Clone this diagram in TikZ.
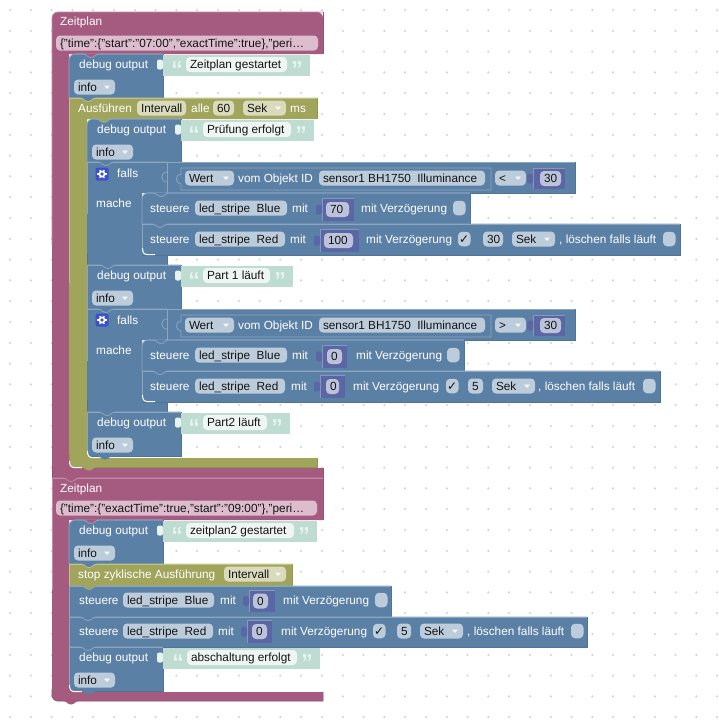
\documentclass[tikz,border=0pt]{standalone}
\usepackage{fontspec}
\setmainfont{Liberation Sans}
\newfontfamily\chkfont{DejaVu Sans}
\definecolor{pur}{HTML}{A55B80}\definecolor{purL}{HTML}{C08CA6}\definecolor{purD}{HTML}{935173}\definecolor{purF}{HTML}{DDBDCD}
\definecolor{blu}{HTML}{5B80A5}\definecolor{bluL}{HTML}{8CA6C0}\definecolor{bluD}{HTML}{517394}\definecolor{bluF}{HTML}{BDCCDB}
\definecolor{oli}{HTML}{A0A55B}\definecolor{oliL}{HTML}{C0C48C}\definecolor{oliD}{HTML}{919550}\definecolor{oliF}{HTML}{DADBBD}
\definecolor{grn}{HTML}{BEDCD1}\definecolor{grnL}{HTML}{E6F3EE}\definecolor{grnF}{HTML}{EEF5F2}
\definecolor{valc}{HTML}{5B67A5}\definecolor{valL}{HTML}{8C95C0}\definecolor{valF}{HTML}{BDC2DB}
\definecolor{dotc}{HTML}{D4D4D4}\definecolor{gearc}{HTML}{3A50CC}\definecolor{inkc}{HTML}{141414}
\newcount\nodec
\tikzset{
  lblnode/.style={anchor=west,inner sep=0pt,text=white,text height=10pt,text depth=2pt,font=\fontsize{11.8}{14}\selectfont},
  fldnode/.style={inner sep=0pt,rounded corners=4pt,minimum height=15pt,text=inkc,text height=10pt,text depth=2pt,font=\fontsize{11.8}{14}\selectfont},
  quotenode/.style={anchor=base,inner sep=0pt,text=grnL,font=\bfseries\fontsize{23}{23}\selectfont},
  hl/.style={line width=0.8pt}
}
% label
\newcommand\txt[3]{\global\advance\nodec by 1 \node[lblnode] (n\the\nodec) at ({#1},{#2}) {#3};}
% field: color,x1,x2,yc,text
\newcommand\fld[5]{\global\advance\nodec by 1
  \pgfmathsetmacro\fldw{(#3)-(#2)}
  \node[fldnode,fill=#1,minimum width=\fldw pt] (n\the\nodec) at ({((#2)+(#3))/2},{#4}) {\makebox[\fldw pt][l]{\hspace{4pt}#5\hss}};}
% dropdown field
\newcommand\ddf[5]{\fld{#1}{#2}{#3}{#4}{#5}%
  \fill[white!85!#1] ({#3-11},{#4-1.5}) -- ({#3-5},{#4-1.5}) -- ({#3-8},{#4+2}) -- cycle;}
% plain block
\newcommand\blk[5]{\fill[#1] ({#2},{#3}) rectangle ({#4},{#5});
  \draw[#1L,hl] ({#2},{#5}) -- ({#2},{#3}) -- ({#4},{#3});
  \draw[#1D,hl] ({#4},{#3}) -- ({#4},{#5}) -- ({#2},{#5});}
% block with rounded top-left
\newcommand\blkR[5]{\fill[#1] ({#2},{#5}) [rounded corners=6pt] -- ({#2},{#3}) [sharp corners] -- ({#4},{#3}) -- ({#4},{#5}) -- cycle;
  \draw[#1L,hl] ({#2},{#5}) [rounded corners=6pt] -- ({#2},{#3}) [sharp corners] -- ({#4},{#3});
  \draw[#1D,hl] ({#4},{#3}) -- ({#4},{#5}) -- ({#2},{#5});}
% C block: col,x,y1,xr,hb,xi,ib,y2, radii in \rtop \rbot
\def\rtop{0}\def\rbot{0}
\newcommand\cblk[8]{\fill[#1] (#2,{(#3+#8)/2}) [rounded corners=\rtop pt] -- (#2,#3) -- (#4,#3) [sharp corners] -- (#4,#5) -- (#6,#5) -- (#6,#7) -- (#4,#7) -- (#4,#8) [rounded corners=\rbot pt] -- (#2,#8) -- (#2,{#8-12}) [sharp corners] -- cycle;
  \draw[#1L,hl] (#2,{(#3+#8)/2}) [rounded corners=\rtop pt] -- (#2,#3) -- (#4,#3);
  \draw[#1D,hl] (#4,#3) -- (#4,#5);
  \draw[#1D,hl] (#4,#7) -- (#4,#8) [rounded corners=\rbot pt] -- (#2,#8) -- (#2,{#8-12});}
% inner corner highlight: parent,xi,ib
\newcommand\corner[3]{\fill[#1] (#2,{#3-7}) .. controls ({#2+.5},{#3-2}) and ({#2+2},#3) .. ({#2+7},#3) -- (#2,#3) -- cycle;
  \draw[white,line width=1pt] ({#2+.5},{#3-7}) .. controls ({#2+.5},{#3-2}) and ({#2+2},{#3-.3}) .. ({#2+7},{#3-.3}) -- ({#2+13},{#3-.3});}
% bump: nx,y,fill
\newcommand\bump[3]{\fill[#3] (#1,#2) .. controls ({#1+4},#2) and ({#1+4},{#2+3.5}) .. ({#1+8},{#2+3.5}) .. controls ({#1+12},{#2+3.5}) and ({#1+12},#2) .. ({#1+16},#2) -- cycle;}
% notch line: x1,nx,x2,y,fill,light
\newcommand\notch[6]{\bump{#2}{#4}{#5}
  \draw[#6,hl] (#1,#4) -- (#2,#4) .. controls ({#2+4},#4) and ({#2+4},{#4+3.5}) .. ({#2+8},{#4+3.5}) .. controls ({#2+12},{#4+3.5}) and ({#2+12},#4) .. ({#2+16},#4) -- (#3,#4);}
% tab: right x, yc, colour
\newcommand\tabb[3]{\fill[#3,rounded corners=2pt] ({#1-6},{#2-5}) rectangle ({#1},{#2+5});}
% debug: x,y,green right,f1,f2,text,rounded(blk/blkR)
\newcommand\dbg[7]{\csname #7\endcsname{blu}{#1}{#2}{#1+94}{#2+44}
  \fill[grn] ({#1+94},{#2+1}) rectangle (#3,{#2+22});
  \tabb{#1+94}{#2+10.5}{grnL}
  \txt{#1+10}{#2+10.5}{debug output}
  \global\advance\nodec by 1 \node[quotenode] (n\the\nodec) at ({#4-9},{#2+23}) {“};
  \global\advance\nodec by 1 \node[quotenode] (n\the\nodec) at ({#5+10},{#2+23}) {”};
  \fld{grnF}{#4}{#5}{#2+10.5}{#6}
  \ddf{bluF}{#1+5}{#1+46}{#2+33}{info}}
% value block: x1,x2,y1,y2,f1,f2,text
\newcommand\valb[7]{\fill[valc] ({#1},{#3}) rectangle ({#2},{#4});
  \draw[valL,hl] ({#1},{#4}) -- ({#1},{#3}) -- ({#2},{#3});
  \tabb{#1}{((#3)+(#4))/2}{valc}
  \fld{valF}{#5}{#6}{((#3)+(#4))/2}{#7}}
% checkbox: x1,yc,text
\newcommand\cbx[3]{\global\advance\nodec by 1
  \node[fldnode,fill=bluF,minimum width=12.5pt,minimum height=14.5pt] (n\the\nodec) at ({#1+6.25},{#2}) {\makebox[12.5pt][c]{\chkfont\fontsize{12}{12}\selectfont #3}};}
% compare row: y
\newcommand\cmpr[1]{\blk{blu}{167}{#1}{575}{#1+31}
  \draw[bluL,hl] (167,{#1+10}) .. controls (160,{#1+10}) and (160,{#1+20}) .. (167,{#1+20});
  \draw[bluL,hl] (181,{#1+6}) -- (491,{#1+6}) -- (491,{#1+28}) -- (181,{#1+28}) -- (181,{#1+22}) .. controls (175,{#1+22}) and (175,{#1+12}) .. (181,{#1+12}) -- cycle;
  \ddf{bluF}{185}{234}{#1+16}{W\kern-0.5pt ert}
  \txt{238}{#1+16}{vom Objekt ID}
  \fld{bluF}{319}{485}{#1+16}{sensor1 BH1750\ \ Illuminance}
  \valb{533}{565}{#1+6}{#1+27}{540}{561}{30}}
% gear: cx,cy
\newcommand\geartile[2]{\fill[gearc,rounded corners=2pt] ({#1-6.5},{#2-6.5}) rectangle ({#1+6.5},{#2+6.5});
  \draw[white,line width=1.7pt] (#1,#2) circle[radius=2.6pt];
  \foreach \a in {0,60,...,300}{\draw[white,line width=1.2pt] ({#1+3*cos(\a)},{#2+3*sin(\a)}) -- ({#1+4.6*cos(\a)},{#2+4.6*sin(\a)});}}
\begin{document}
\begin{tikzpicture}[x=1pt,y=-1pt]
\useasboundingbox (0,0) rectangle (719,728);
\fill[white] (0,0) rectangle (719,728);
% background grid
\fill[dotc] \foreach \i in {0,...,34}{\foreach \j in {0,...,34}{
  ({10+20.8*\i-1},{10+20.8*\j-.5}) rectangle ({10+20.8*\i+1},{10+20.8*\j+.5})
  ({10+20.8*\i-.5},{10+20.8*\j-1}) rectangle ({10+20.8*\i+.5},{10+20.8*\j+1})}};
% === first schedule ===
\def\rtop{6}\def\rbot{0}
\cblk{pur}{52}{12}{323}{54}{69}{468}{478}
\txt{60}{21}{Zeitplan}
\fld{purF}{56}{318}{43}{\{"time":\{"start":"07:00","exactTime":true\},"peri…}
\dbg{69}{54}{310}{186}{287}{Zeitplan gestartet}{blkR}
\def\rtop{0}
\cblk{oli}{69}{98}{317}{119}{87}{458}{467}
\txt{78}{108}{Ausführen}
\fld{oliF}{137}{186}{108}{Intervall}
\txt{191}{108}{alle}
\fld{oliF}{213}{234}{108}{60}
\ddf{oliF}{243}{286}{108}{Sek}
\txt{290}{108}{ms}
\dbg{87}{119}{314}{203}{291}{Prüfung erfolgt}{blkR}
% falls 1
\cblk{blu}{87}{162}{167}{193}{142}{255}{265}
\geartile{102}{174}
\txt{117}{173}{falls}
\txt{96}{203}{mache}
\cmpr{162}
\ddf{bluF}{495}{526}{178}{<}
\blkR{blu}{142}{193}{470}{224}
\txt{150}{208}{steuere}
\fld{bluF}{195}{287}{208}{led\_stripe\ \ Blue}
\txt{292}{208}{mit}
\valb{322}{354}{198}{221}{326}{349}{70}
\txt{361}{208}{mit Verzögerung}
\cbx{453}{208}{}
\blk{blu}{142}{224}{680}{255}
\txt{150}{239}{steuere}
\fld{bluF}{195}{285}{239}{led\_stripe\ \ Red}
\txt{290}{239}{mit}
\valb{320}{359}{229}{252}{324}{353}{100}
\txt{366}{239}{mit Verzögerung}
\cbx{458}{239}{✓}
\fld{bluF}{483}{503}{239}{30}
\ddf{bluF}{512}{555}{239}{Sek}
\txt{559}{239}{, löschen falls läuft}
\cbx{663}{239}{}
\corner{blu}{142}{255}
\dbg{87}{265}{293}{203}{270}{Part 1 läuft}{blk}
% falls 2
\cblk{blu}{87}{309}{167}{340}{142}{402}{412}
\geartile{102}{320}
\txt{117}{320}{falls}
\txt{96}{350}{mache}
\cmpr{309}
\ddf{bluF}{495}{526}{325}{>}
\blkR{blu}{142}{340}{464}{371}
\txt{150}{355}{steuere}
\fld{bluF}{195}{287}{355}{led\_stripe\ \ Blue}
\txt{292}{355}{mit}
\valb{322}{347}{345}{368}{327}{342}{0}
\txt{356}{355}{mit Verzögerung}
\cbx{447}{355}{}
\blk{blu}{142}{371}{660}{402}
\txt{150}{386}{steuere}
\fld{bluF}{195}{285}{386}{led\_stripe\ \ Red}
\txt{291}{386}{mit}
\valb{320}{345}{375}{398}{326}{339}{0}
\txt{353}{386}{mit Verzögerung}
\cbx{446}{386}{✓}
\fld{bluF}{468}{483}{386}{5}
\ddf{bluF}{492}{535}{386}{Sek}
\txt{538}{386}{, löschen falls läuft}
\cbx{643}{386}{}
\corner{blu}{142}{402}
\dbg{87}{412}{290}{203}{267}{Part2 läuft}{blk}
% stacking marks, first schedule
\corner{oli}{87}{458}
\corner{pur}{69}{468}
\notch{75}{83}{163}{54}{pur}{bluL}
\notch{69}{80}{317}{98}{blu}{oliL}
\notch{93}{96}{181}{119}{oli}{bluL}
\notch{87}{98}{167}{162}{blu}{bluL}
\notch{148}{153}{470}{193}{blu}{bluL}
\notch{142}{152}{680}{224}{blu}{bluL}
\notch{87}{100}{181}{265}{blu}{bluL}
\notch{87}{98}{167}{309}{blu}{bluL}
\notch{148}{153}{464}{340}{blu}{bluL}
\notch{142}{152}{660}{371}{blu}{bluL}
\notch{87}{99}{181}{412}{blu}{bluL}
\bump{97}{456}{blu}
\bump{81}{467}{oli}
% === second schedule ===
\def\rtop{0}\def\rbot{6}
\cblk{pur}{52}{478}{323}{520}{69}{692}{701}
\txt{60}{488}{Zeitplan}
\fld{purF}{56}{317}{508}{\{"time":\{"exactTime":true,"start":"09:00"\},"peri…}
\dbg{69}{520}{317}{186}{294}{zeitplan2 gestartet}{blkR}
\blk{oli}{69}{564}{292}{586}
\txt{78}{574}{stop zyklische Ausführung}
\ddf{oliF}{224}{286}{574}{Intervall}
\blk{blu}{69}{586}{391}{617}
\txt{79}{600}{steuere}
\fld{bluF}{123}{214}{600}{led\_stripe\ \ Blue}
\txt{220}{600}{mit}
\valb{249}{275}{590}{612}{253}{268}{0}
\txt{283}{600}{mit Verzögerung}
\cbx{375}{600}{}
\blk{blu}{69}{617}{587}{647}
\txt{79}{631}{steuere}
\fld{bluF}{123}{213}{631}{led\_stripe\ \ Red}
\txt{218}{631}{mit}
\valb{247}{272}{620}{643}{252}{267}{0}
\txt{281}{631}{mit Verzögerung}
\cbx{373}{631}{✓}
\fld{bluF}{397}{411}{631}{5}
\ddf{bluF}{420}{463}{631}{Sek}
\txt{467}{631}{, löschen falls läuft}
\cbx{571}{631}{}
\dbg{69}{647}{320}{187}{297}{abschaltung erfolgt}{blk}
\corner{pur}{69}{692}
\notch{52}{63}{323}{478}{pur}{purL}
\notch{75}{83}{163}{520}{pur}{bluL}
\notch{69}{81}{292}{564}{blu}{oliL}
\notch{69}{81}{391}{586}{oli}{bluL}
\notch{69}{80}{587}{617}{blu}{bluL}
\notch{69}{80}{163}{647}{blu}{bluL}
\bump{81}{691}{blu}
\bump{63}{701}{pur}
\end{tikzpicture}
\end{document}
